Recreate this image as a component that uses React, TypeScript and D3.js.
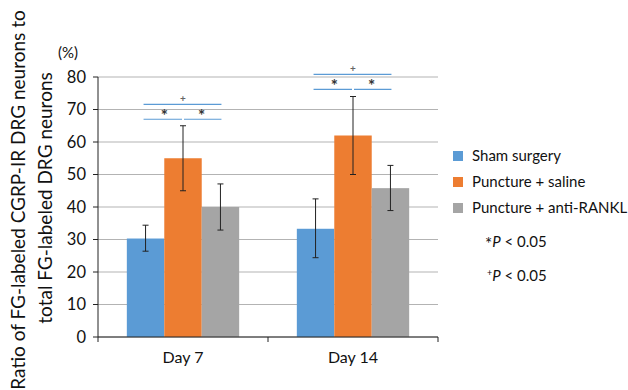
import React from "react";
import * as d3 from "d3";

const days = ["Day 7", "Day 14"];
const groups = ["Sham surgery", "Puncture + saline", "Puncture + anti-RANKL"];
const colors = ["#5b9bd5", "#ed7d31", "#a5a5a5"];
// values [day][group]
const means = [
  [30.3, 55.0, 40.0],
  [33.3, 62.0, 45.8],
];
const errLow = [
  [26.4, 45.0, 32.9],
  [24.4, 50.0, 38.9],
];
const errHigh = [
  [34.4, 65.0, 47.1],
  [42.5, 74.0, 52.8],
];
// significance bracket levels (y values) per day
const plusLevel = [71.6, 80.8];
const starLevel = [67.0, 76.2];
const yTicks = [0, 10, 20, 30, 40, 50, 60, 70, 80];

const FONT = "Lato, 'Open Sans', sans-serif";

export default function App() {
  const left = 98, right = 438, top = 77, bottom = 337;
  const y = d3.scaleLinear().domain([0, 80]).range([bottom, top]);
  const x = d3.scaleBand().domain(days).range([left, right]).paddingInner(0).paddingOuter(0);
  const inner = d3
    .scaleBand()
    .domain(groups)
    .range([0, x.bandwidth()])
    .paddingOuter(0.77)
    .paddingInner(0);

  const sigBlue = "#5b9bd5";

  return (
    <svg width={628} height={390} style={{ position: "absolute", left: 0, top: 0 }} fontFamily={FONT}>
      <rect width={628} height={390} fill="white" />
      {/* gridlines */}
      {yTicks.map((t) => (
        <line key={t} x1={left} x2={right} y1={y(t)} y2={y(t)} stroke="#b3b3b3" strokeWidth={1.2} />
      ))}
      {/* bars */}
      {days.map((d, di) =>
        groups.map((g, gi) => (
          <rect
            key={d + g}
            x={(x(d) as number) + (inner(g) as number)}
            y={y(means[di][gi])}
            width={inner.bandwidth()}
            height={y(0) - y(means[di][gi])}
            fill={colors[gi]}
          />
        ))
      )}
      {/* error bars */}
      {days.map((d, di) =>
        groups.map((g, gi) => {
          const cx = (x(d) as number) + (inner(g) as number) + inner.bandwidth() / 2;
          return (
            <g key={"e" + d + g} stroke="#222" strokeWidth={1}>
              <line x1={cx} x2={cx} y1={y(errLow[di][gi])} y2={y(errHigh[di][gi])} />
              <line x1={cx - 3} x2={cx + 3} y1={y(errLow[di][gi])} y2={y(errLow[di][gi])} />
              <line x1={cx - 3} x2={cx + 3} y1={y(errHigh[di][gi])} y2={y(errHigh[di][gi])} />
            </g>
          );
        })
      )}
      {/* axes */}
      <line x1={left} x2={left} y1={top} y2={bottom} stroke="#222" />
      <line x1={left} x2={right} y1={bottom} y2={bottom} stroke="#222" />
      {yTicks.map((t) => (
        <g key={"yt" + t}>
          <line x1={left - 5} x2={left} y1={y(t)} y2={y(t)} stroke="#222" />
          <text x={86} y={y(t)} dy="0.35em" textAnchor="end" fontSize={16.5} fill="#111">
            {t}
          </text>
        </g>
      ))}
      {[left, left + x.bandwidth(), right].map((px) => (
        <line key={"xt" + px} x1={px} x2={px} y1={bottom} y2={bottom + 5} stroke="#222" />
      ))}
      {days.map((d) => (
        <text key={"xl" + d} x={(x(d) as number) + x.bandwidth() / 2} y={363} textAnchor="middle" fontSize={16} fill="#111">
          {d}
        </text>
      ))}
      <text x={68} y={58} textAnchor="middle" fontSize={15} fill="#111">(%)</text>
      {/* significance markers */}
      {days.map((d, di) => {
        const c0 = (x(d) as number) + (inner(groups[0]) as number) + inner.bandwidth() / 2;
        const c1 = (x(d) as number) + (inner(groups[1]) as number) + inner.bandwidth() / 2;
        const c2 = (x(d) as number) + (inner(groups[2]) as number) + inner.bandwidth() / 2;
        return (
          <g key={"s" + d}>
            <line x1={c0 - 2} x2={c2 + 1} y1={y(plusLevel[di])} y2={y(plusLevel[di])} stroke={sigBlue} strokeWidth={1.2} />
            <text x={c1} y={y(plusLevel[di]) - 2} textAnchor="middle" fontSize={10} fontWeight="bold" fill="#666">+</text>
            <line x1={c0 - 2} x2={c1 - 1} y1={y(starLevel[di])} y2={y(starLevel[di])} stroke={sigBlue} strokeWidth={1.2} />
            <line x1={c1 + 1} x2={c2 + 1} y1={y(starLevel[di])} y2={y(starLevel[di])} stroke={sigBlue} strokeWidth={1.2} />
            <text x={(c0 + c1) / 2} y={y(starLevel[di]) + 3} textAnchor="middle" fontSize={17} fontWeight="bold" fill="#333">*</text>
            <text x={(c1 + c2) / 2} y={y(starLevel[di]) + 3} textAnchor="middle" fontSize={17} fontWeight="bold" fill="#333">*</text>
          </g>
        );
      })}
      {/* y title */}
      <text transform="translate(25,200) rotate(-90)" textAnchor="middle" fontSize={19} fill="#111">
        Ratio of FG-labeled CGRP-IR DRG neurons to
      </text>
      <text transform="translate(52,198) rotate(-90)" textAnchor="middle" fontSize={19} fill="#111">
        total FG-labeled DRG neurons
      </text>
      {/* legend */}
      {groups.map((g, i) => (
        <g key={"lg" + g} transform={`translate(453,${156 + i * 26})`}>
          <rect x={0} y={-5} width={10} height={10} fill={colors[i]} />
          <text x={19} y={0} dy="0.35em" fontSize={15} fill="#111">{g}</text>
        </g>
      ))}
      <text x={485} y={247} dy="0.35em" fontSize={15} fill="#111">
        <tspan fontSize={17} dy="0.15em">*</tspan>
        <tspan fontStyle="italic" dy="-0.15em">P</tspan>
        <tspan> &lt; 0.05</tspan>
      </text>
      <text x={487} y={279} dy="0.35em" fontSize={15} fill="#111">
        <tspan fontSize={9} dy="-0.3em">+</tspan>
        <tspan fontStyle="italic" dy="0.3em">P</tspan>
        <tspan> &lt; 0.05</tspan>
      </text>
    </svg>
  );
}
